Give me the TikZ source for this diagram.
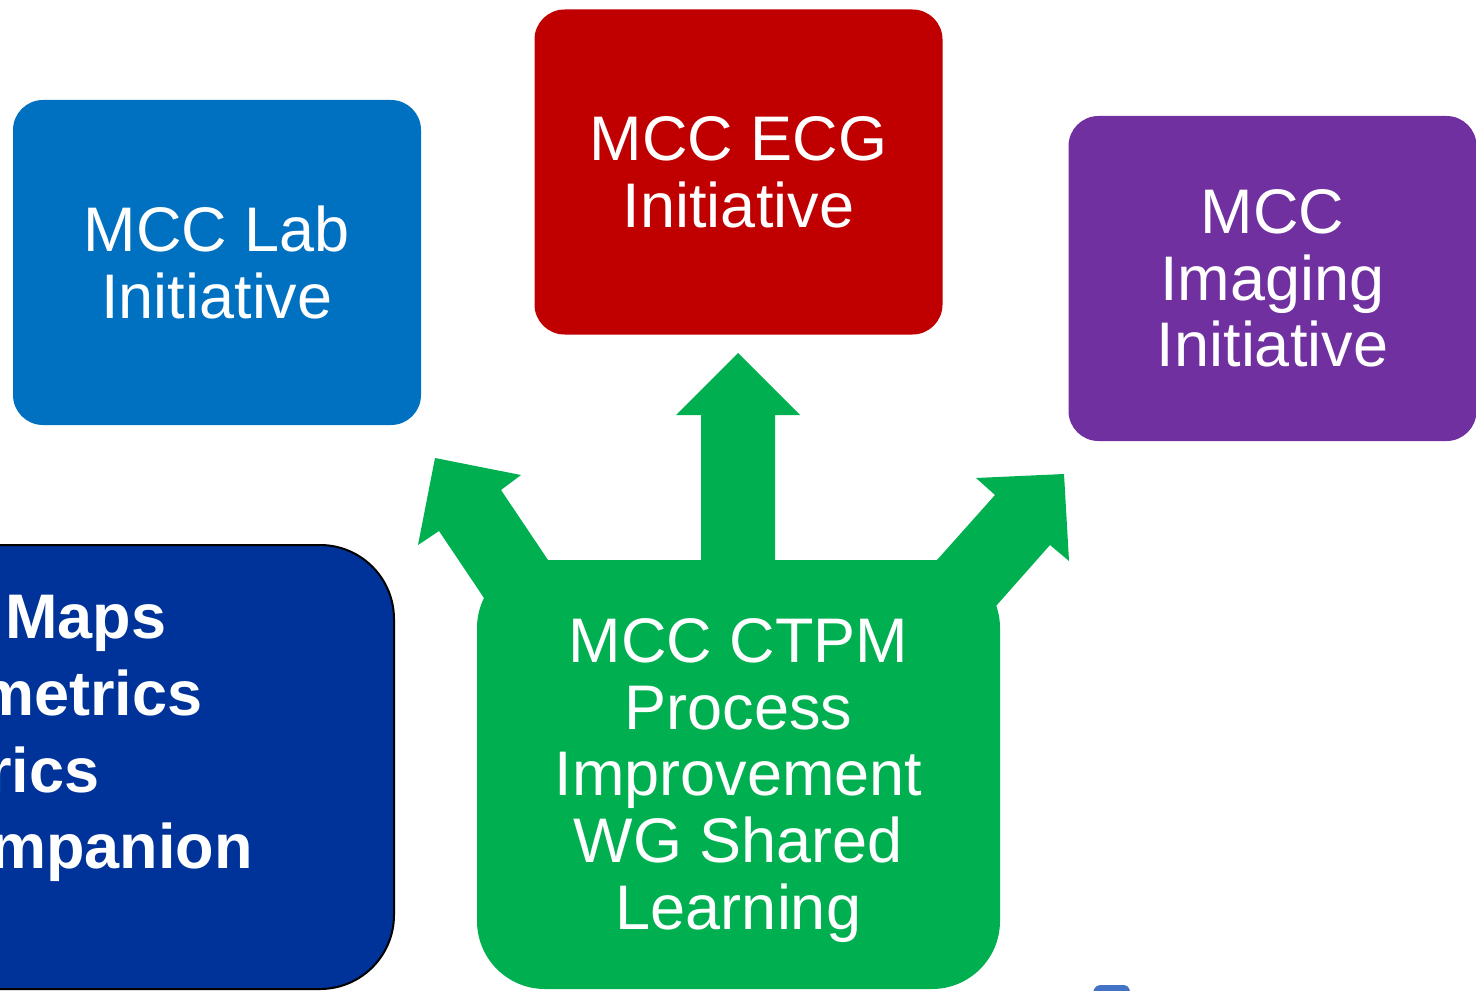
\documentclass[tikz,border=0pt]{standalone}
\usepackage{fontspec}
\setmainfont{Liberation Sans}
\usepackage{tikz}
\usetikzlibrary{positioning}

\definecolor{labblue}{HTML}{0070C0}
\definecolor{ecgred}{HTML}{C00000}
\definecolor{imgpurple}{HTML}{7030A0}
\definecolor{hubgreen}{HTML}{00B050}
\definecolor{mapblue}{HTML}{003399}
\definecolor{stubblue}{HTML}{4472C4}

\begin{document}
\begin{tikzpicture}[
  x=0.5pt, y=-0.5pt,
  txt/.style={text=white, align=center, inner sep=0pt, font=\fontsize{31.5}{33.4}\selectfont},
  initbox/.style={txt, rounded corners=15pt, minimum width=204pt, minimum height=162.5pt},
  hub/.style={fill=hubgreen, rounded corners=34pt, minimum width=261.5pt, minimum height=214.5pt},
  mapline/.style={text=white, anchor=base west, inner sep=0pt, font=\fontsize{31.5}{38}\selectfont\bfseries},
  bigarrow/.style={fill=hubgreen}
]
\useasboundingbox (0,0) rectangle (1476,990);
\clip (0,0) rectangle (1476,990);

% three initiatives
\node[initbox, fill=labblue] (lab) at (217,262.5) {MCC Lab\\Initiative};
\node[initbox, fill=ecgred] (ecg) at (738.5,172) {MCC ECG\\Initiative};
\node[initbox, fill=imgpurple] (imaging) at (1272.5,278.5) {MCC\\Imaging\\Initiative};

% box cut off on the left
\node[draw=black, line width=1pt, fill=mapblue, rounded corners=37pt,
  minimum width=247pt, minimum height=222pt] (mapbox) at (147,767) {};
\node[mapline] (maps) at (5,638) {Maps};
\node[mapline] (metrics) at (-22,715) {metrics};
\node[mapline] (rics) at (-13,792) {rics};
\node[mapline] (mpanion) at (-10,868) {mpanion};

% block arrows out of the hub
\fill[bigarrow] (701,600) -- (701,415) -- (676,415) -- (738,353) -- (800,415) -- (775,415) -- (775,600) -- cycle;
\fill[bigarrow] (548,560) -- (501,490) -- (521,475) -- (435,458) -- (418,545) -- (439,531) -- (484,598) -- (560,640) -- cycle;
\fill[bigarrow] (937,560) -- (995,495) -- (976,478) -- (1064,474) -- (1069,561) -- (1050,545) -- (996,606) -- (930,640) -- cycle;

\node[hub] (ctpm) at (738.5,774.5) {};
\node[txt] (ctpmtext) at ([yshift=-3pt]ctpm.center) {MCC CTPM\\Process\\Improvement\\WG Shared\\Learning};

% edge of a shape below the page
\fill[stubblue, rounded corners=2pt] (1092,994) -- (1096,985) -- (1128,985) -- (1131,994) -- cycle;
\end{tikzpicture}
\end{document}
